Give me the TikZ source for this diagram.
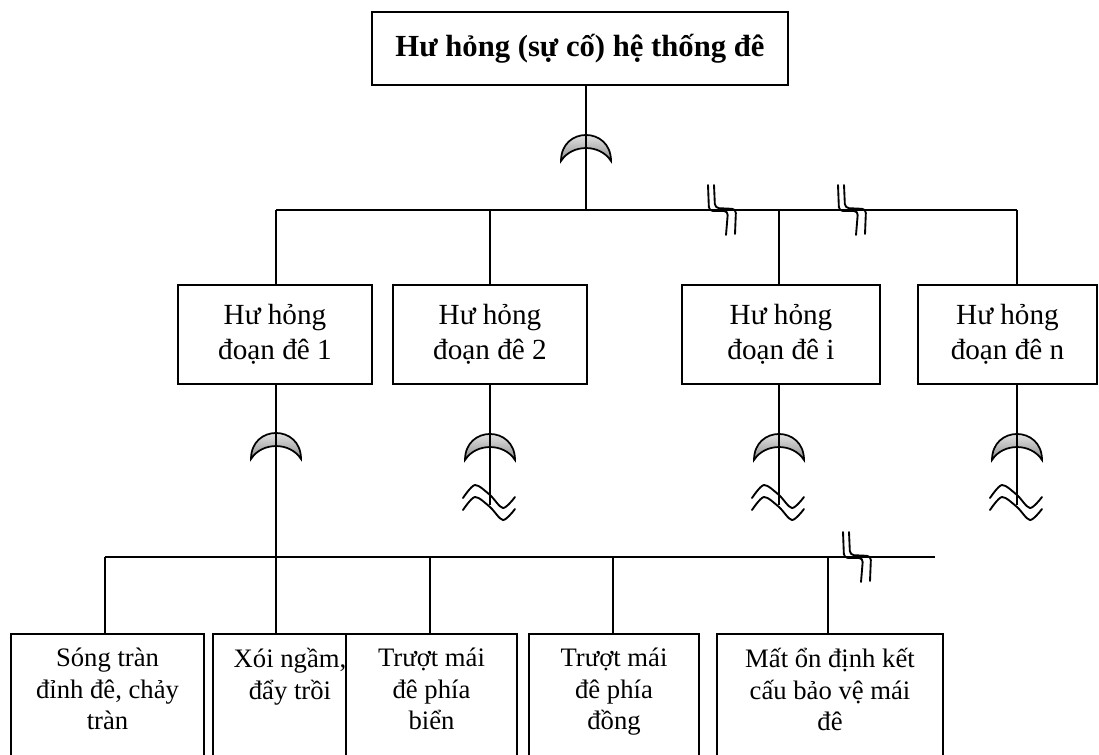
\documentclass[tikz,border=0pt]{standalone}
\usepackage{fontspec}
\setmainfont{Liberation Serif}
\newcommand\pxu{0.75pt}
\tikzset{
  box/.style={draw, line width=1.4pt, fill=white, inner sep=0pt, align=center},
  wire/.style={line width=1.4pt},
  brk/.style={line width=1.4pt, line cap=round, line join=round, rounded corners=3pt},
  wavy/.style={line width=1.4pt, line cap=round},
  gatefill/.style={draw, line width=1.3pt, top color=white, bottom color=black!45},
  midfont/.style={font=\fontsize{21.9pt}{26pt}\selectfont},
  lowfont/.style={font=\fontsize{20pt}{23.6pt}\selectfont},
  lowtext/.style={lowfont, align=center, anchor=north, inner sep=0pt}
}
\newcommand\gatedraw[2]{%
  \path[gatefill] ({#1-25},{#2+26}) .. controls ({#1-25},{#2-8.7}) and ({#1+25},{#2-8.7}) .. ({#1+25},{#2+26})
     .. controls ({#1+14},{#2+8.7}) and ({#1-14},{#2+8.7}) .. cycle;}
\newcommand\wavedraw[2]{%
  \draw[wavy] plot[smooth] coordinates {({#1-27},{#2+13}) ({#1-15},{#2}) ({#1},{#2+10}) ({#1+13},{#2+23}) ({#1+25},{#2+12})};}
\newcommand\breakdraw[2]{%
  \draw[brk] (#1,{#2-25}) -- ({#1+1},{#2+1}) -- ({#1+20},{#2+1}) -- ({#1+18},{#2+25});
  \draw[brk] ({#1+6},{#2-25}) -- ({#1+7},{#2-2}) -- ({#1+28},{#2-1}) -- ({#1+27},{#2+24});}
\begin{document}
\begin{tikzpicture}[x=0.75pt,y=-0.75pt]
\useasboundingbox (0,0) rectangle (1099,754);
\clip (0,0) rectangle (1099,754);
% top box
\node[box, minimum width=416*\pxu, minimum height=73*\pxu, font=\fontsize{23pt}{27pt}\selectfont\bfseries] (top) at (580,48.5) {Hư hỏng (sự cố) hệ thống đê};
% middle boxes
\node[box, midfont, minimum width=194*\pxu, minimum height=99*\pxu] (m1) at (275,334.5) {Hư hỏng\\đoạn đê 1};
\node[box, midfont, minimum width=194*\pxu, minimum height=99*\pxu] (m2) at (490,334.5) {Hư hỏng\\đoạn đê 2};
\node[box, midfont, minimum width=198*\pxu, minimum height=99*\pxu] (mi) at (781,334.5) {Hư hỏng\\đoạn đê i};
\node[box, midfont, minimum width=179*\pxu, minimum height=99*\pxu] (mn) at (1007.5,334.5) {Hư hỏng\\đoạn đê n};
% bus coordinates
\coordinate (j0) at (586,210);
\coordinate (j1) at (276,210);
\coordinate (j2) at (490,210);
\coordinate (j3) at (779,210);
\coordinate (j4) at (1017,210);
\coordinate (k0) at (105,557);
\coordinate (k1) at (276,557);
\coordinate (k2) at (430,557);
\coordinate (k3) at (613,557);
\coordinate (k4) at (828,557);
\coordinate (k5) at (935,557);
\coordinate (e2) at (490,505);
\coordinate (e3) at (779,505);
\coordinate (e4) at (1017,505);
% gates
\gatedraw{586}{135}
\gatedraw{276}{433}
\gatedraw{490}{434}
\gatedraw{779}{434}
\gatedraw{1017}{434}
% top connectors
\draw[wire] (j0 |- top.south) -- (j0);
\draw[wire] (j1) -- (j4);
\draw[wire] (j1) -- (j1 |- m1.north);
\draw[wire] (j2) -- (j2 |- m2.north);
\draw[wire] (j3) -- (j3 |- mi.north);
\draw[wire] (j4) -- (j4 |- mn.north);
\breakdraw{708}{210}
\breakdraw{838}{210}
% middle connectors
\draw[wire] (k1 |- m1.south) -- (k1);
\draw[wire] (e2 |- m2.south) -- (e2);
\draw[wire] (e3 |- mi.south) -- (e3);
\draw[wire] (e4 |- mn.south) -- (e4);
\wavedraw{490}{485}
\wavedraw{490}{497}
\wavedraw{779}{485}
\wavedraw{779}{497}
\wavedraw{1017}{485}
\wavedraw{1017}{497}
% bottom boxes
\node[box, minimum width=193*\pxu, minimum height=136*\pxu] (b1) at (107.5,702) {};
\node[lowtext] (t1) at (b1.north |- 0,648) {Sóng tràn\\đỉnh đê, chảy\\tràn};
\node[box, minimum width=133*\pxu, minimum height=136*\pxu] (b2) at (279.5,702) {};
\node[lowtext] (t2) at (290,648) {Xói ngầm,\\đẩy trồi};
\node[box, minimum width=171*\pxu, minimum height=136*\pxu] (b3) at (431.5,702) {};
\node[lowtext] (t3) at (b3.north |- 0,648) {Trượt mái\\đê phía\\biển};
\node[box, minimum width=170*\pxu, minimum height=136*\pxu] (b4) at (614,702) {};
\node[lowtext] (t4) at (b4.north |- 0,648) {Trượt mái\\đê phía\\đồng};
\node[box, minimum width=226*\pxu, minimum height=136*\pxu] (b5) at (830,702) {};
\node[lowtext] (t5) at (b5.north |- 0,648) {Mất ổn định kết\\cấu bảo vệ mái\\đê};
% bottom connectors
\draw[wire] (k0) -- (k5);
\draw[wire] (k0) -- (k0 |- b1.north);
\draw[wire] (k1) -- (k1 |- b2.north);
\draw[wire] (k2) -- (k2 |- b3.north);
\draw[wire] (k3) -- (k3 |- b4.north);
\draw[wire] (k4) -- (k4 |- b5.north);
\breakdraw{843}{557}
\end{tikzpicture}
\end{document}
